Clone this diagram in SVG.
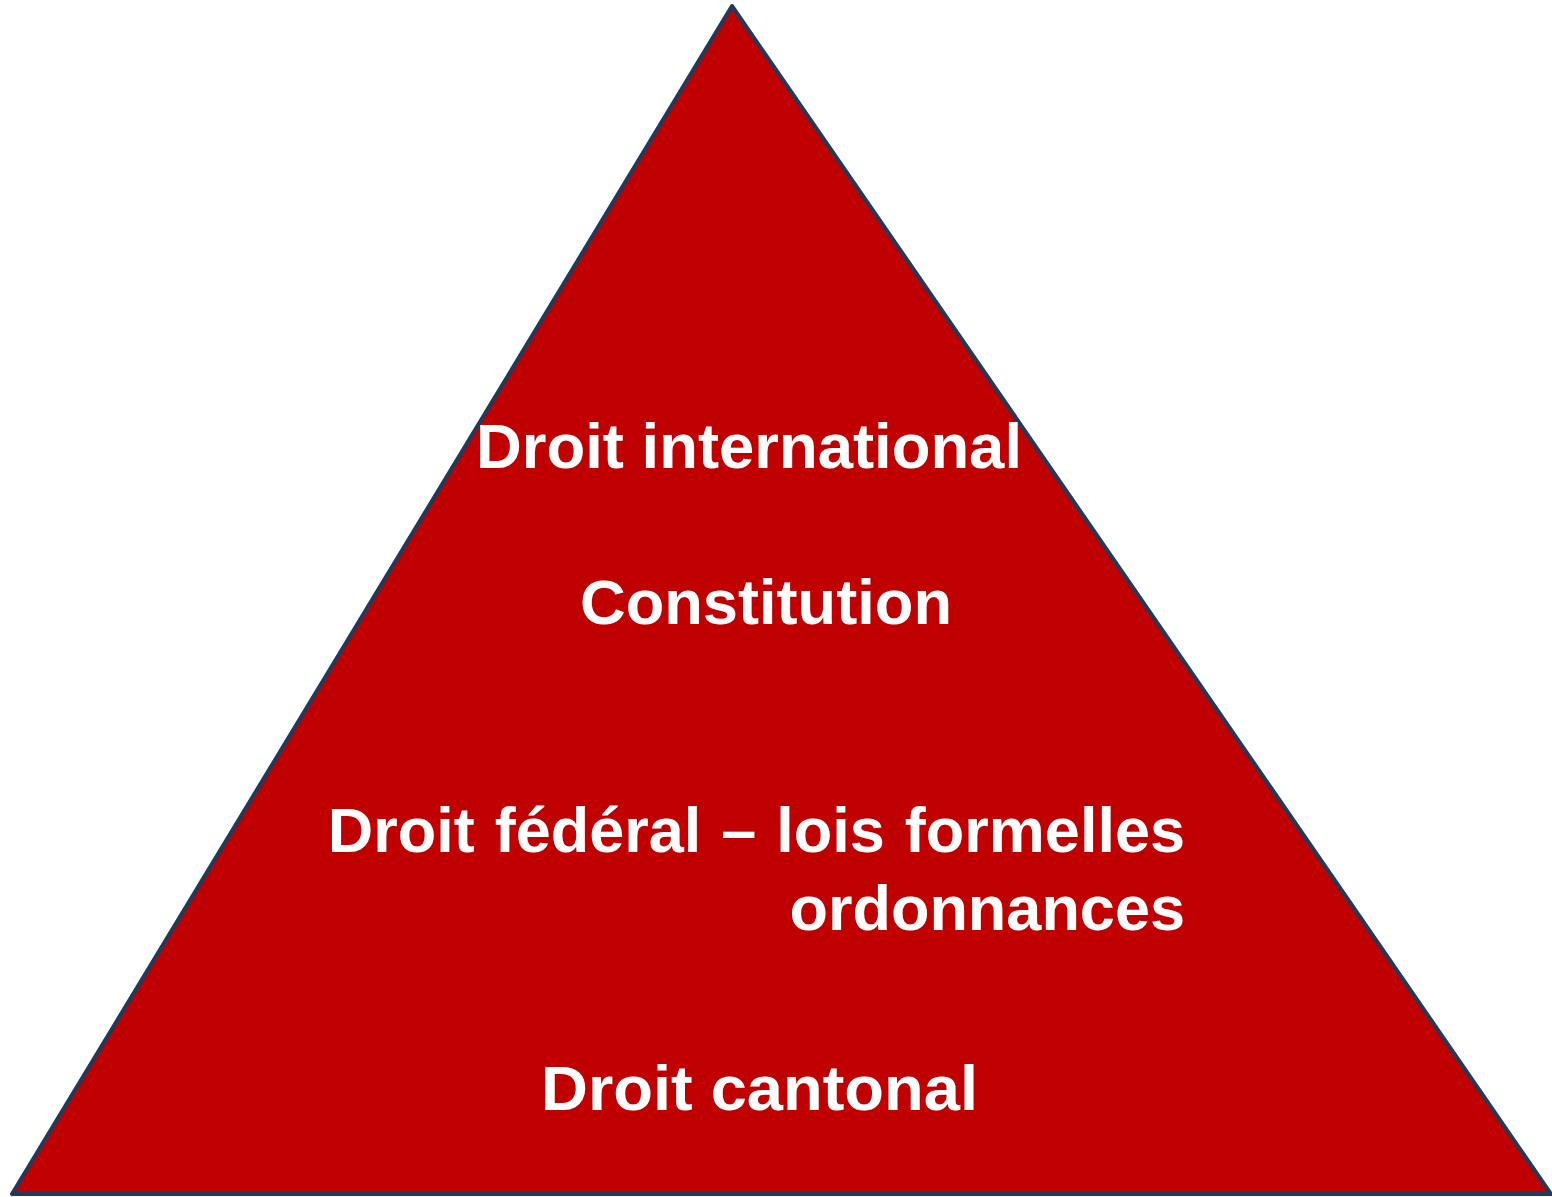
<svg xmlns="http://www.w3.org/2000/svg" width="1552" height="1197" viewBox="0 0 1552 1197">
  <style>
    .lbl { font-family: "Liberation Sans", Arial, sans-serif; font-weight: bold; font-size: 63px; fill: #FFFFFF; }
  </style>
  <rect width="1552" height="1197" fill="#FFFFFF"/>
  <g id="pyramid">
    <polygon points="732,6 1551,1194 12,1194" fill="#C00000" stroke="#1F3A5A" stroke-width="4" stroke-linejoin="round"/>
  </g>
  <g id="droit-international">
    <text class="lbl" x="476" y="468" textLength="546" lengthAdjust="spacingAndGlyphs">Droit international</text>
  </g>
  <g id="constitution">
    <text class="lbl" x="580" y="624" textLength="372" lengthAdjust="spacingAndGlyphs">Constitution</text>
  </g>
  <g id="droit-federal">
    <text class="lbl" x="1185" y="852" text-anchor="end" word-spacing="2.5">Droit f&#233;d&#233;ral &#8211; lois formelles</text>
    <text class="lbl" x="1185" y="930" text-anchor="end">ordonnances</text>
  </g>
  <g id="droit-cantonal">
    <text class="lbl" x="541" y="1110" textLength="437" lengthAdjust="spacingAndGlyphs">Droit cantonal</text>
  </g>
</svg>
